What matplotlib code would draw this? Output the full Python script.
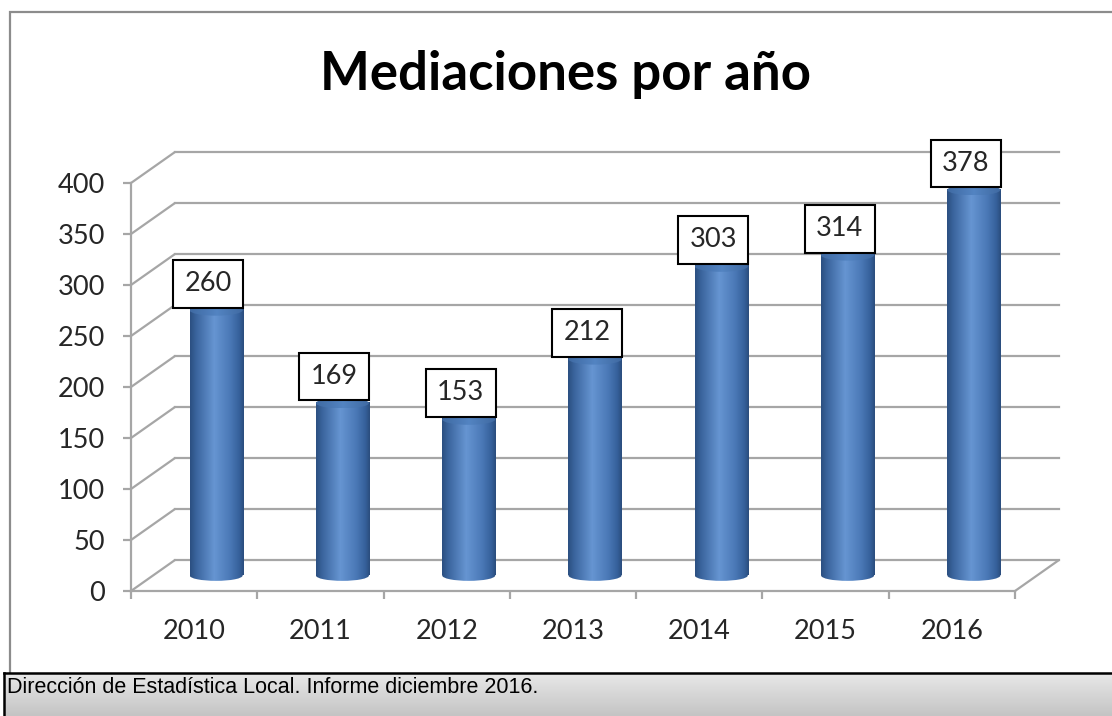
import numpy as np
import matplotlib
matplotlib.use('Agg')
import matplotlib.pyplot as plt
from matplotlib.transforms import offset_copy
from matplotlib.patches import Ellipse, Rectangle, ConnectionPatch
from matplotlib.colors import LinearSegmentedColormap

# data
years = ['2010', '2011', '2012', '2013', '2014', '2015', '2016']
mediaciones = [260, 169, 153, 212, 303, 314, 378]
y_ticks = [0, 50, 100, 150, 200, 250, 300, 350, 400]
title = 'Mediaciones por año'
footer = 'Dirección de Estadística Local. Informe diciembre 2016.'

W, H, DPI = 1112, 716, 100
GRID = '#a6a6a6'
FONT = 'Lato'

fig = plt.figure(figsize=(W / DPI, H / DPI), dpi=DPI)
fig.patch.set_facecolor('white')

# outer chart frame (bottom edge hidden under the footer)
fig.add_artist(Rectangle((10 / W, 20 / H), 1.2, (H - 12 - 20) / H, transform=fig.transFigure,
                         fill=False, ec='#8c8c8c', lw=1.6, zorder=0))

ax = fig.add_axes([131 / W, 125 / H, 884 / W, 408 / H])
ax.set_facecolor('none')
n = len(years)

# depth offsets (3d look)
back = offset_copy(ax.transData, fig=fig, x=44, y=31, units='dots')
mid = offset_copy(ax.transData, fig=fig, x=22, y=15.5, units='dots')

for v in y_ticks:
    ax.plot([0, n], [v, v], transform=back, color=GRID, lw=1.6, clip_on=False, zorder=1)
    ax.add_artist(ConnectionPatch((0, v), (0, v), coordsA=ax.transData, coordsB=back,
                                  color=GRID, lw=1.6, zorder=1))
ax.add_artist(ConnectionPatch((n, 0), (n, 0), coordsA=ax.transData, coordsB=back,
                              color=GRID, lw=1.6, zorder=1))

# cylinder shading
body_cmap = LinearSegmentedColormap.from_list('body', [
    (0.0, '#2b4f80'), (0.12, '#3b659e'), (0.45, '#6695d2'),
    (0.75, '#4a78b6'), (0.92, '#35609a'), (1.0, '#2a4c7c')])
top_cmap = LinearSegmentedColormap.from_list('top', [
    (0.0, '#3f6aa3'), (0.5, '#5384c2'), (1.0, '#3f69a1')])
grad = np.linspace(0, 1, 256).reshape(1, -1)

bw = 0.42
eh = 10.5
for i, v in enumerate(mediaciones):
    xc = i + 0.5
    x0, x1 = xc - bw / 2, xc + bw / 2
    ax.imshow(grad, extent=(x0, x1, 0, v), transform=mid, cmap=body_cmap,
              aspect='auto', zorder=3, interpolation='bilinear')
    bot = Ellipse((xc, 0), bw, eh, transform=mid)
    im = ax.imshow(grad, extent=(x0, x1, -eh / 2, 0), transform=mid, cmap=body_cmap,
                   aspect='auto', zorder=3, interpolation='bilinear')
    im.set_clip_path(bot)
    top = Ellipse((xc, v), bw, eh, transform=mid)
    im = ax.imshow(grad, extent=(x0, x1, v - eh / 2, v + eh / 2), transform=mid,
                   cmap=top_cmap, aspect='auto', zorder=4, interpolation='bilinear')
    im.set_clip_path(top)
    ax.annotate(str(v), xy=(xc, v), xycoords=mid, xytext=(-8, 14),
                textcoords='offset pixels', ha='center', va='bottom',
                fontsize=19.5, family=FONT, color='#262626', zorder=6,
                bbox=dict(boxstyle='square,pad=0.42', fc='white', ec='black', lw=1.5))

ax.set_xlim(0, n)
ax.set_ylim(0, 400)

for s in ['top', 'right']:
    ax.spines[s].set_visible(False)
for s in ['left', 'bottom']:
    ax.spines[s].set_color(GRID)
    ax.spines[s].set_linewidth(1.6)
    ax.spines[s].set_zorder(2)

ax.set_yticks(y_ticks)
ax.set_yticklabels([str(t) for t in y_ticks])
ax.set_xticks(range(n + 1))
ax.set_xticklabels([])
ax.set_xticks([i + 0.5 for i in range(n)], minor=True)
ax.set_xticklabels(years, minor=True)
ax.tick_params(axis='y', direction='out', length=5.8, width=1.6, color=GRID,
               pad=13, labelsize=19.5, labelcolor='#262626')
ax.tick_params(axis='x', which='major', direction='out', length=5.8, width=1.6, color=GRID)
ax.tick_params(axis='x', which='minor', length=0, pad=20, labelsize=19.5, labelcolor='#262626')
for lab in ax.get_yticklabels() + ax.get_xticklabels(minor=True):
    lab.set_family(FONT)

fig.text(565 / W, 1 - 90 / H, title, ha='center', va='baseline', fontsize=38,
         fontweight='bold', family=FONT, color='black')

# footer strip
fax = fig.add_axes([4 / W, 0, 1.0, 43 / H])
fax.set_zorder(5)
fax.imshow(np.linspace(0, 1, 64).reshape(-1, 1), cmap=LinearSegmentedColormap.from_list(
    'foot', ['#e8e8e8', '#c4c4c4']), aspect='auto', extent=(0, 1, 0, 1))
fax.set_xlim(0, 1)
fax.set_ylim(0, 1)
fax.set_xticks([])
fax.set_yticks([])
for s in ['right', 'bottom']:
    fax.spines[s].set_visible(False)
for s in ['top', 'left']:
    fax.spines[s].set_color('black')
    fax.spines[s].set_linewidth(1.8)
fax.text(3 / W, 1 - 20 / 43, footer, transform=fax.transAxes, ha='left', va='baseline',
         fontsize=15.5, family='Liberation Sans', color='black')

fig.savefig('out.png', dpi=DPI)
